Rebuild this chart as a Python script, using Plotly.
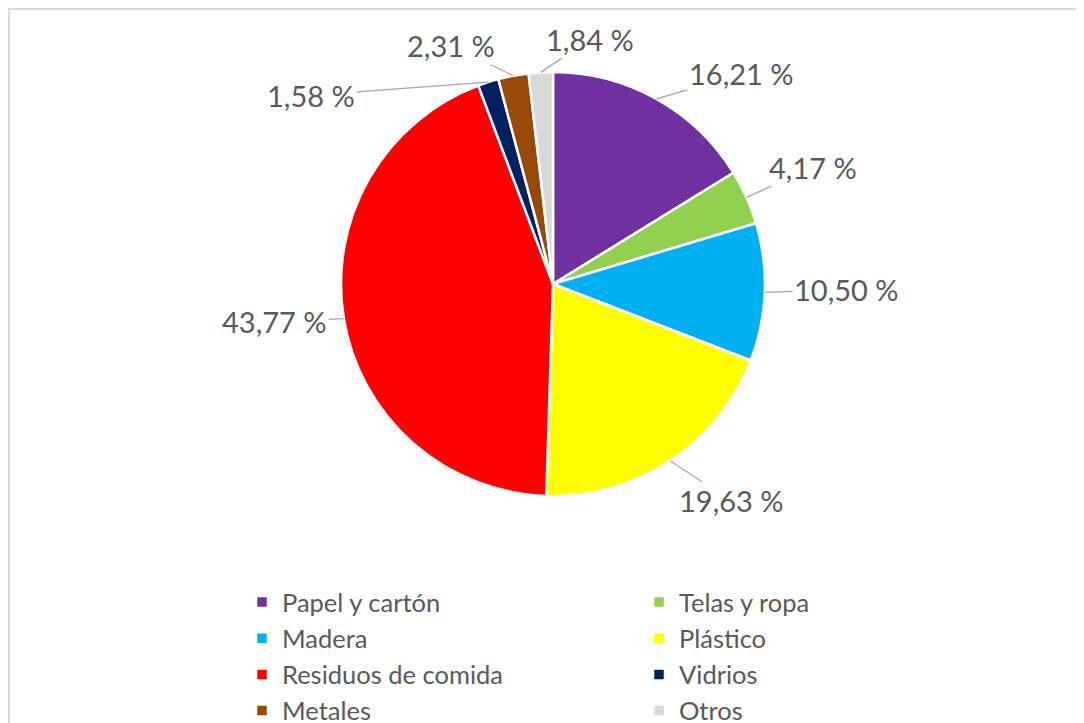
import math
import plotly.graph_objects as go

categories = ["Papel y cartón", "Telas y ropa", "Madera", "Plástico",
              "Residuos de comida", "Vidrios", "Metales", "Otros"]
values = [16.21, 4.17, 10.50, 19.63, 43.77, 1.58, 2.31, 1.84]
colors = ["#7030A0", "#92D050", "#00B0F0", "#FFFF00",
          "#FF0000", "#002060", "#984807", "#D9D9D9"]
# label text offsets (pixels) from slice edge point
label_dx = [85, 67, 82, 61, -69, -177, -62, 49]
label_dy = [-25, -30, -3, 40, 3, 13, -30, -33]

W, H = 1084, 723
dom_x = [333 / W, 757 / W]
dom_y = [1 - 488 / H, 1 - 64 / H]
FONT = "Lato, 'Open Sans', sans-serif"
TXT = "#595959"

fig = go.Figure(go.Pie(
    labels=categories, values=values, sort=False, direction="clockwise",
    rotation=0, textinfo="none", hoverinfo="label+percent",
    marker=dict(colors=colors, line=dict(color="white", width=2.5)),
    domain=dict(x=dom_x, y=dom_y),
))

cx = (dom_x[0] + dom_x[1]) / 2 * W
cy = (1 - (dom_y[0] + dom_y[1]) / 2) * H
r = min((dom_x[1] - dom_x[0]) * W, (dom_y[1] - dom_y[0]) * H) / 2
total = sum(values)
cum = 0.0
annotations = []
for v, dx, dy in zip(values, label_dx, label_dy):
    mid = (cum + v / 2) / total * 2 * math.pi
    cum += v
    px = cx + r * math.sin(mid)
    py = cy - r * math.cos(mid)
    annotations.append(dict(
        x=px / W, y=1 - py / H, xref="paper", yref="paper",
        text=f"{v:.2f}".replace(".", ",") + " %",
        showarrow=True, arrowhead=0, arrowwidth=1.3, arrowcolor="#A6A6A6",
        ax=dx, ay=dy, standoff=0,
        font=dict(family=FONT, size=29, color=TXT),
    ))

shapes = [
    dict(type="rect", xref="paper", yref="paper", x0=1 / W, y0=0,
         x1=1, y1=1 - 1 / H, line=dict(color="#D9D9D9", width=2)),
]

fig.update_layout(
    width=W, height=H, margin=dict(l=0, r=0, t=0, b=0, autoexpand=False),
    paper_bgcolor="white", plot_bgcolor="white",
    annotations=annotations, shapes=shapes,
    showlegend=True,
    legend=dict(orientation="h", x=234 / W, xanchor="left",
                y=1 - 571 / H, yanchor="top",
                xref="container", yref="container",
                entrywidth=352, entrywidthmode="pixels",
                font=dict(family=FONT, size=25.5, color=TXT),
                traceorder="normal"),
)

fig.write_html("out.html")
